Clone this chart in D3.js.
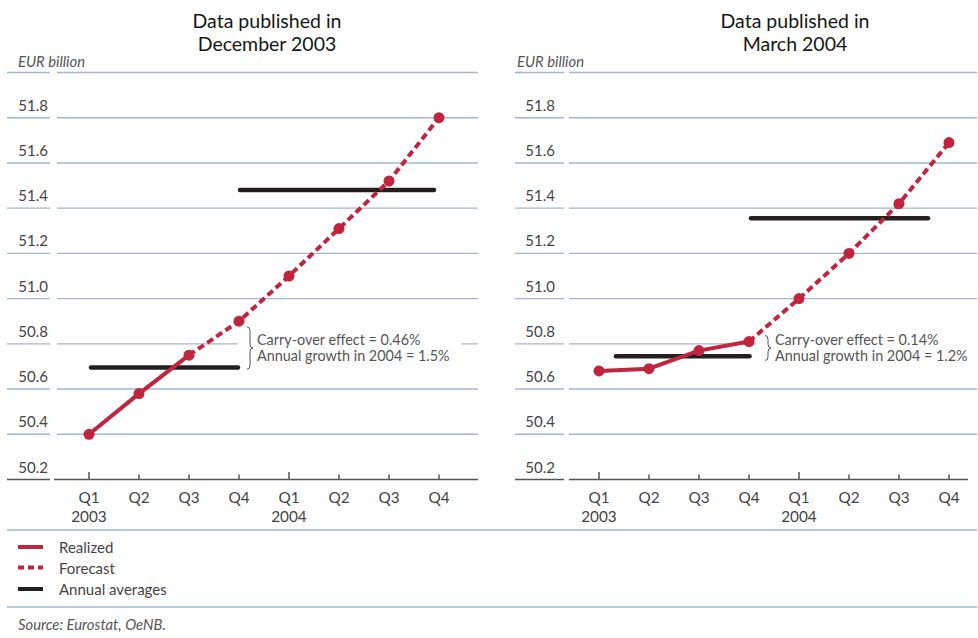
<!DOCTYPE html>
<html>
<head>
<meta charset="utf-8">
<script src="https://cdn.jsdelivr.net/npm/d3@7"></script>
<style>
  html, body { margin: 0; padding: 0; background: #fff; }
  svg { display: block; font-family: Lato, "Open Sans", sans-serif; }
</style>
</head>
<body>
<svg id="chart" width="978" height="638"></svg>
<script>
// Quarter axis
const quarterLabels = ["Q1", "Q2", "Q3", "Q4", "Q1", "Q2", "Q3", "Q4"];
const yearLabels = ["2003", "", "", "", "2004", "", "", ""];
const yTickValues = [50.2, 50.4, 50.6, 50.8, 51.0, 51.2, 51.4, 51.6, 51.8];
const yTop = 52.0;

// Data published in December 2003 (EUR billion)
const decemberValues = [50.40, 50.58, 50.75, 50.90, 51.10, 51.31, 51.52, 51.80];
const decemberRealized = 3;            // Q1–Q3 2003 realized
const decemberAverages = [50.695, 51.48];
const decemberAvgSpans = [[0.04, 2.98], [3.02, 6.9]];   // in quarter index units
const decemberNotes = ["Carry-over effect = 0.46%", "Annual growth in 2004 = 1.5%"];

// Data published in March 2004 (EUR billion)
const marchValues = [50.68, 50.69, 50.77, 50.81, 51.00, 51.20, 51.42, 51.69];
const marchRealized = 4;               // Q1–Q4 2003 realized
const marchAverages = [50.745, 51.355];
const marchAvgSpans = [[0.34, 3.01], [3.04, 6.58]];
const marchNotes = ["Carry-over effect = 0.14%", "Annual growth in 2004 = 1.2%"];

const legendLabels = ["Realized", "Forecast", "Annual averages"];
const sourceText = "Source: Eurostat, OeNB.";

const RED = "#c1243f";
const BLACK = "#231f20";
const GRID = "#a2b7cd";
const AXIS = "#555";
const TEXT = "#444";

const svg = d3.select("#chart");

const y = d3.scaleLinear().domain([50.2, yTop]).range([479.5, 72.5]);

const panels = [
  {
    title: ["Data published in", "December 2003"], titleX: 267,
    values: decemberValues, realized: decemberRealized,
    averages: decemberAverages, spans: decemberAvgSpans, notes: decemberNotes,
    band: [7, 50], plot: [57, 478], base: [54, 478], q: [89, 439],
    labelX: 48, unitX: 18, noteX: 247
  },
  {
    title: ["Data published in", "March 2004"], titleX: 795,
    values: marchValues, realized: marchRealized,
    averages: marchAverages, spans: marchAvgSpans, notes: marchNotes,
    band: [515, 564], plot: [569, 977], base: [569, 968], q: [599, 949],
    labelX: 555, unitX: 517, noteX: 765
  }
];

panels.forEach(p => {
  const g = svg.append("g");
  const idx = d3.range(quarterLabels.length);
  const x = d3.scaleLinear().domain([0, quarterLabels.length - 1]).range(p.q);

  // Title
  g.append("text")
    .attr("x", p.titleX).attr("y", 27.5)
    .attr("text-anchor", "middle")
    .attr("font-size", 19.5).attr("fill", "#161616")
    .selectAll("tspan").data(p.title).join("tspan")
    .attr("x", p.titleX).attr("dy", (d, i) => i === 0 ? 0 : 23)
    .text(d => d);

  // Unit label
  g.append("text")
    .attr("x", p.unitX).attr("y", 66.5)
    .attr("font-size", 14.8).attr("font-style", "italic").attr("fill", "#555")
    .text("EUR billion");

  // Gridlines (label band segment + plot segment)
  const gridVals = yTickValues.concat([yTop]);
  const gl = g.append("g");
  gridVals.forEach(v => {
    const isBase = v === 50.2;
    const col = isBase ? AXIS : GRID;
    const sw = isBase ? 1.6 : 1.4;
    gl.append("line")
      .attr("x1", p.band[0]).attr("x2", p.band[1])
      .attr("y1", y(v)).attr("y2", y(v))
      .attr("stroke", col).attr("stroke-width", sw);
    const seg = isBase ? p.base : p.plot;
    gl.append("line")
      .attr("x1", seg[0]).attr("x2", seg[1])
      .attr("y1", y(v)).attr("y2", y(v))
      .attr("stroke", col).attr("stroke-width", sw);
  });

  // Y tick labels
  g.append("g").selectAll("text").data(yTickValues).join("text")
    .attr("x", p.labelX).attr("y", d => y(d) - 7)
    .attr("text-anchor", "end")
    .attr("font-size", 15).attr("fill", TEXT)
    .text(d => d3.format(".1f")(d));

  // X ticks and labels
  g.append("g").selectAll("line").data(idx).join("line")
    .attr("x1", d => x(d)).attr("x2", d => x(d))
    .attr("y1", y(50.2)).attr("y2", d => y(50.2) - (d % 4 === 0 ? 7.5 : 5))
    .attr("stroke", AXIS).attr("stroke-width", 1.5);

  g.append("g").selectAll("text.q").data(idx).join("text")
    .attr("class", "q")
    .attr("x", d => x(d)).attr("y", 502.5)
    .attr("text-anchor", "middle")
    .attr("font-size", 15.3).attr("fill", TEXT)
    .text(d => quarterLabels[d]);

  g.append("g").selectAll("text.yr").data(idx.filter(i => yearLabels[i])).join("text")
    .attr("class", "yr")
    .attr("x", d => x(d)).attr("y", 521.5)
    .attr("text-anchor", "middle")
    .attr("font-size", 15.3).attr("fill", TEXT)
    .text(d => yearLabels[d]);

  // Annotation block: white backing over the gridline
  const yQ4 = y(p.values[3]);
  const yAvg = y(p.averages[0]);
  const center = 348;
  const back = g.append("rect").attr("fill", "#fff");

  // Annual averages
  g.append("g").selectAll("line").data(p.averages).join("line")
    .attr("x1", (d, i) => x(p.spans[i][0]))
    .attr("x2", (d, i) => x(p.spans[i][1]))
    .attr("y1", d => y(d)).attr("y2", d => y(d))
    .attr("stroke", BLACK).attr("stroke-width", 4.5)
    .attr("stroke-linecap", "round");

  // Realized (solid) and forecast (dashed) lines
  const line = d3.line().x(d => x(d.i)).y(d => y(d.v));
  const pts = p.values.map((v, i) => ({ i, v }));
  g.append("path")
    .attr("d", line(pts.slice(0, p.realized)))
    .attr("fill", "none").attr("stroke", RED).attr("stroke-width", 4)
    .attr("stroke-linejoin", "round");
  g.append("path")
    .attr("d", line(pts.slice(p.realized - 1)))
    .attr("fill", "none").attr("stroke", RED).attr("stroke-width", 4)
    .attr("stroke-dasharray", "7,4");

  g.append("g").selectAll("circle").data(pts).join("circle")
    .attr("cx", d => x(d.i)).attr("cy", d => y(d.v))
    .attr("r", 5.5).attr("fill", RED);

  // Brace between the last 2003 quarter and the 2003 average
  const half = Math.max((yAvg - yQ4) / 2 - 2, 12.5);
  const y0 = center - half, y1 = center + half;
  const bx = p.noteX, w = 3, r = 4;
  const bracePath = `M${bx},${y0} Q${bx + w},${y0} ${bx + w},${y0 + r} L${bx + w},${center - r} ` +
    `Q${bx + w},${center} ${bx + 2 * w},${center} Q${bx + w},${center} ${bx + w},${center + r} ` +
    `L${bx + w},${y1 - r} Q${bx + w},${y1} ${bx},${y1}`;
  g.append("path").attr("d", bracePath)
    .attr("fill", "none").attr("stroke", "#555").attr("stroke-width", 1);

  const note = g.append("text")
    .attr("font-size", 14.4).attr("fill", "#555");
  note.selectAll("tspan").data(p.notes).join("tspan")
    .attr("x", bx + 10).attr("y", (d, i) => center - 3 + i * 15.5)
    .text(d => d);

  const bb = note.node().getBBox();
  back.attr("x", bx - 9).attr("y", center - 16)
    .attr("width", bb.x + bb.width - bx + 9 + 12).attr("height", 34);
});

// Separators
[530, 607].forEach(yy => {
  svg.append("line")
    .attr("x1", 7).attr("x2", 977).attr("y1", yy).attr("y2", yy)
    .attr("stroke", GRID).attr("stroke-width", 1.4);
});

// Legend
const legend = svg.append("g");
const legendY = [547, 567.5, 589];
legend.selectAll("line").data(legendLabels).join("line")
  .attr("x1", 18).attr("x2", 43)
  .attr("y1", (d, i) => legendY[i]).attr("y2", (d, i) => legendY[i])
  .attr("stroke", (d, i) => i === 2 ? BLACK : RED)
  .attr("stroke-width", 4)
  .attr("stroke-dasharray", (d, i) => i === 1 ? "6,4" : null);
legend.selectAll("text").data(legendLabels).join("text")
  .attr("x", 59).attr("y", (d, i) => legendY[i] + 6)
  .attr("font-size", 15).attr("fill", TEXT)
  .text(d => d);

svg.append("text")
  .attr("x", 18).attr("y", 630)
  .attr("font-size", 14.8).attr("font-style", "italic").attr("fill", "#555")
  .text(sourceText);
</script>
</body>
</html>
